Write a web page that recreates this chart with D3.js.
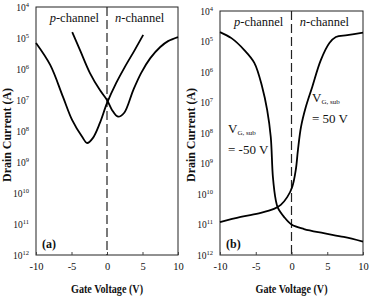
<!DOCTYPE html>
<html>
<head>
<meta charset="utf-8">
<script src="https://cdn.jsdelivr.net/npm/d3@7"></script>
<style>
  body { margin: 0; background: #fff; }
  svg { display: block; font-family: "Liberation Serif", "DejaVu Serif", serif; }
</style>
</head>
<body>
<svg id="chart" width="369" height="297"></svg>
<script>
// tick values
const xTicks = [-10, -5, 0, 5, 10]
const yTicks = [1e-4, 1e-5, 1e-6, 1e-7, 1e-8, 1e-9, 1e-10, 1e-11, 1e-12]

// panel (a): two curves
const aV1 = [-10, -8, -6.2, -4.9, -3.5, -2.8, -2, -1, 0, 1.3, 2.5, 3.9, 5.1]
const aI1 = [6.9e-6, 1.35e-6, 1.26e-7, 2.24e-8, 6.5e-9, 4.1e-9, 5.9e-9, 1.82e-8, 7.9e-8, 3.55e-7, 1.15e-6, 4.07e-6, 1.26e-5]
const aV2 = [-4.9, -3.8, -2.4, -1, 0, 0.7, 1.55, 2.4, 3.7, 4.8, 6.1, 7.5, 8.6, 10]
const aI2 = [1.55e-5, 4.07e-6, 7.4e-7, 2.09e-7, 1e-7, 4.8e-8, 2.9e-8, 3.8e-8, 2.09e-7, 7.4e-7, 2.24e-6, 5.13e-6, 7.94e-6, 1.07e-5]

// panel (b): V_G,sub = -50 V and +50 V
const bVp = [-10, -8.4, -6.6, -5.2, -4.1, -3.4, -2.9, -2.6, -2.2, -1.9, -1.05, 0, 1.75, 4.5, 7.3, 10]
const bIp = [2.04e-5, 1.29e-5, 5.25e-6, 2.0e-6, 3.24e-7, 5.6e-8, 7.4e-9, 3.6e-10, 6.3e-11, 3.5e-11, 1.78e-11, 1e-11, 7.1e-12, 5.2e-12, 3.9e-12, 2.75e-12]
const bVn = [-10, -7.1, -4.3, -2.45, -1.5, -0.6, 0.1, 0.6, 0.9, 1.33, 2.0, 2.9, 4.1, 5.3, 6.2, 7.8, 10]
const bIn = [1.2e-11, 1.78e-11, 2.4e-11, 3.24e-11, 4.4e-11, 7.9e-11, 1.7e-10, 6.2e-10, 2.75e-9, 1.58e-8, 7.1e-8, 3.24e-7, 2.45e-6, 8.9e-6, 1.41e-5, 1.62e-5, 1.95e-5]

const svg = d3.select("#chart")
const serif = "Liberation Serif"

// clip for the left panel (its "10" label is cut by the right panel)
svg.append("defs").append("clipPath").attr("id", "clipA")
   .append("rect").attr("x", 0).attr("y", 0).attr("width", 184).attr("height", 297)

function drawPanel(opts) {
  const g = svg.append("g")
  if (opts.clip) g.attr("clip-path", "url(#" + opts.clip + ")")

  const x = d3.scaleLinear().domain([-10, 10]).range([opts.left, opts.right])
  const y = d3.scaleLog().domain([1e-12, 1e-4]).range([opts.bottom, opts.top])

  // frame
  g.append("rect")
   .attr("x", opts.left).attr("y", opts.top)
   .attr("width", opts.right - opts.left).attr("height", opts.bottom - opts.top)
   .attr("fill", "none").attr("stroke", "#222").attr("stroke-width", 1)

  // x axis (ticks inward), plain hyphen minus like the scan
  const xAxis = g.append("g")
    .attr("transform", "translate(0," + opts.bottom + ")")
    .call(d3.axisBottom(x).tickValues(xTicks).tickSizeInner(-3).tickSizeOuter(0).tickPadding(8)
            .tickFormat(d => String(d)))
    .attr("font-family", serif).attr("font-size", 10.5)
  xAxis.select(".domain").remove()
  xAxis.selectAll("text").attr("fill", "#111")
  xAxis.selectAll("line").attr("stroke", "#444")

  // y axis with 10^n labels
  const yAxis = g.append("g")
    .attr("transform", "translate(" + opts.left + ",0)")
    .call(d3.axisLeft(y).tickValues(yTicks).tickSizeInner(0).tickSizeOuter(0).tickFormat(""))
    .attr("font-family", serif)
  yAxis.select(".domain").remove()
  yAxis.selectAll(".tick").each(function(d) {
    const t = d3.select(this).append("text")
      .attr("x", -7).attr("dy", "0.32em")
      .attr("text-anchor", "end").attr("font-size", 9.5).attr("fill", "#111")
    t.append("tspan").text("10")
    t.append("tspan").attr("font-size", 6.5).attr("dy", "-0.55em").text(Math.round(-Math.log10(d)))
  })

  // dashed zero line
  g.append("line")
   .attr("x1", x(0)).attr("x2", x(0)).attr("y1", opts.top).attr("y2", opts.bottom)
   .attr("stroke", "#222").attr("stroke-width", 1.2).attr("stroke-dasharray", "9,4")

  // curves
  const line = d3.line().x(d => x(d[0])).y(d => y(d[1])).curve(d3.curveCatmullRom)
  opts.series.forEach(s => {
    g.append("path")
     .datum(d3.zip(s[0], s[1]))
     .attr("d", line)
     .attr("fill", "none").attr("stroke", "#000").attr("stroke-width", 1.8)
  })

  // channel labels
  const lab = (cx, italic, rest) => {
    const t = g.append("text").attr("x", cx).attr("y", opts.top + 15)
      .attr("text-anchor", "middle").attr("font-size", 12.5).attr("fill", "#111")
    t.append("tspan").attr("font-style", "italic").text(italic)
    t.append("tspan").text(rest)
  }
  lab(x(-4.6), "p", "-channel")
  lab(x(4.6), "n", "-channel")

  // panel tag
  g.append("text").attr("x", opts.left + 6).attr("y", opts.bottom - 7)
   .attr("font-size", 12).attr("font-weight", "bold").attr("fill", "#111").text(opts.tag)

  // axis titles
  g.append("text")
   .attr("x", (opts.left + opts.right) / 2).attr("y", 293)
   .attr("text-anchor", "middle").attr("font-size", 11.5).attr("font-weight", "bold")
   .attr("textLength", 72).attr("lengthAdjust", "spacingAndGlyphs")
   .attr("fill", "#111").text("Gate Voltage (V)")

  g.append("text")
   .attr("transform", "translate(" + (opts.left - 25) + "," + 135 + ") rotate(-90)")
   .attr("text-anchor", "middle").attr("font-size", 12).attr("font-weight", "bold")
   .attr("textLength", 94).attr("lengthAdjust", "spacingAndGlyphs")
   .attr("fill", "#111").text("Drain Current (A)")

  return { g, x, y }
}

drawPanel({
  left: 36, right: 178, top: 7, bottom: 255, tag: "(a)", clip: "clipA",
  series: [[aV1, aI1], [aV2, aI2]]
})

const b = drawPanel({
  left: 220, right: 363, top: 11, bottom: 255, tag: "(b)",
  series: [[bVp, bIp], [bVn, bIn]]
})

// V_G,sub annotations in panel (b)
function vsub(px, py, value) {
  const t = b.g.append("text").attr("x", px).attr("y", py).attr("font-size", 13).attr("fill", "#111")
  t.append("tspan").text("V")
  t.append("tspan").attr("font-size", 7).attr("dy", "0.3em").text("G, sub")
  b.g.append("text").attr("x", px).attr("y", py + 21).attr("font-size", 13).attr("fill", "#111").text(value)
}
vsub(228, 133, "= -50 V")
vsub(312, 102, "= 50 V")
</script>
</body>
</html>
